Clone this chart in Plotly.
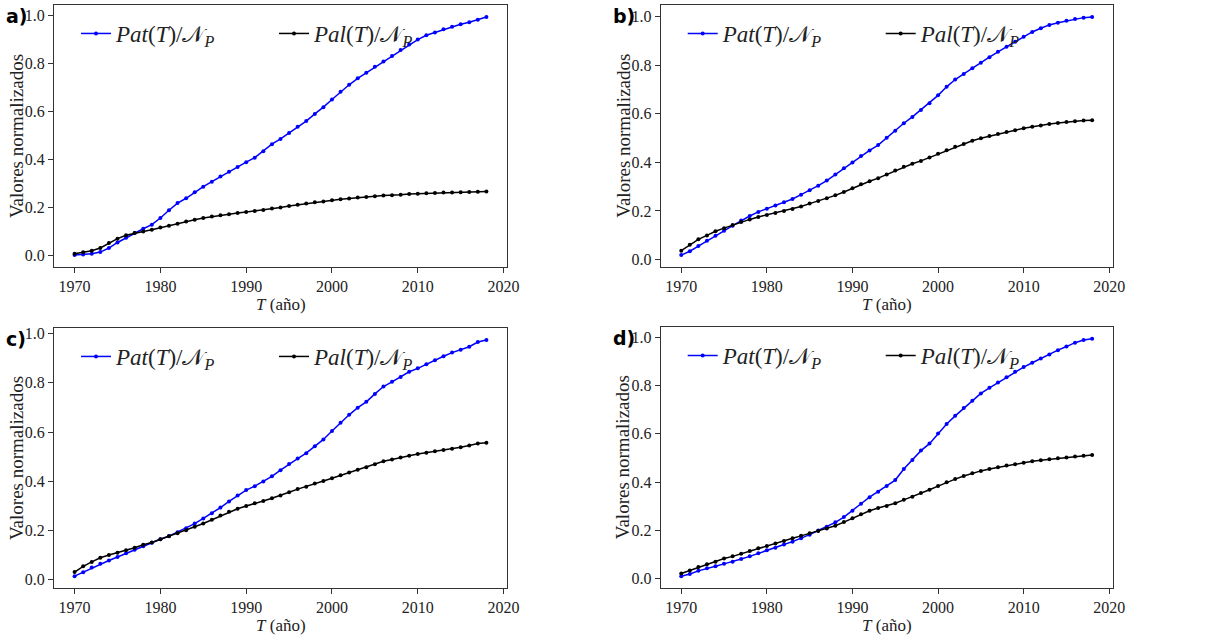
import plotly.graph_objects as go

years = list(range(1970, 2019))

pat_a = [0.003,0.005,0.008,0.015,0.032,0.055,0.075,0.094,0.112,0.129,0.157,0.189,0.219,0.239,0.264,0.287,0.308,0.329,0.349,0.369,
         0.389,0.408,0.435,0.464,0.486,0.511,0.536,0.560,0.590,0.618,0.650,0.682,0.711,0.738,0.761,0.786,0.808,0.831,0.856,0.879,
         0.899,0.917,0.929,0.942,0.953,0.963,0.971,0.982,0.993]
pal_a = [0.008,0.014,0.021,0.032,0.053,0.071,0.085,0.094,0.101,0.108,0.117,0.125,0.133,0.142,0.150,0.157,0.163,0.168,0.172,0.178,
         0.182,0.186,0.190,0.196,0.201,0.207,0.212,0.217,0.222,0.226,0.231,0.235,0.238,0.242,0.244,0.247,0.250,0.251,0.254,0.257,
         0.258,0.260,0.261,0.263,0.263,0.264,0.265,0.266,0.267]
pat_b = [0.018,0.034,0.055,0.077,0.098,0.118,0.139,0.160,0.179,0.196,0.209,0.222,0.236,0.249,0.267,0.285,0.304,0.325,0.350,0.376,
         0.399,0.426,0.449,0.471,0.501,0.530,0.561,0.587,0.616,0.643,0.676,0.711,0.741,0.764,0.788,0.810,0.833,0.855,0.876,0.897,
         0.917,0.937,0.952,0.966,0.975,0.983,0.990,0.996,0.999]
pal_b = [0.036,0.061,0.083,0.099,0.116,0.129,0.142,0.154,0.165,0.175,0.183,0.191,0.200,0.208,0.218,0.230,0.241,0.252,0.264,0.278,
         0.293,0.310,0.322,0.335,0.350,0.366,0.382,0.394,0.406,0.420,0.435,0.450,0.464,0.476,0.489,0.499,0.508,0.517,0.525,0.532,
         0.540,0.547,0.552,0.558,0.562,0.566,0.569,0.572,0.573]
pat_c = [0.014,0.030,0.049,0.065,0.078,0.092,0.107,0.122,0.136,0.150,0.164,0.177,0.193,0.209,0.228,0.249,0.270,0.293,0.318,0.342,
         0.364,0.380,0.399,0.420,0.445,0.470,0.492,0.514,0.542,0.570,0.604,0.638,0.670,0.699,0.723,0.755,0.785,0.804,0.824,0.845,
         0.859,0.876,0.892,0.908,0.923,0.935,0.947,0.966,0.974]
pal_c = [0.031,0.054,0.072,0.089,0.100,0.109,0.119,0.130,0.142,0.151,0.164,0.176,0.189,0.201,0.215,0.228,0.243,0.261,0.276,0.288,
         0.299,0.311,0.320,0.331,0.342,0.355,0.368,0.378,0.391,0.401,0.412,0.424,0.436,0.447,0.457,0.469,0.481,0.488,0.497,0.504,
         0.511,0.516,0.522,0.527,0.532,0.538,0.545,0.553,0.557]
pat_d = [0.010,0.019,0.032,0.043,0.051,0.061,0.070,0.081,0.092,0.105,0.117,0.128,0.141,0.153,0.167,0.182,0.199,0.215,0.233,0.255,
         0.281,0.310,0.337,0.360,0.383,0.408,0.454,0.491,0.530,0.559,0.601,0.640,0.674,0.706,0.737,0.767,0.790,0.812,0.834,0.857,
         0.876,0.894,0.912,0.928,0.946,0.961,0.977,0.988,0.993]
pal_d = [0.021,0.033,0.048,0.059,0.070,0.083,0.092,0.103,0.114,0.126,0.135,0.145,0.156,0.167,0.177,0.188,0.197,0.207,0.219,0.234,
         0.250,0.266,0.281,0.292,0.301,0.312,0.326,0.339,0.354,0.368,0.383,0.399,0.412,0.425,0.436,0.446,0.454,0.461,0.468,0.474,
         0.480,0.486,0.490,0.494,0.498,0.502,0.506,0.509,0.512]

panel_labels = ["a)", "b)", "c)", "d)"]
pat_name = "<i>Pat</i>(<i>T</i>)/𝒩<sub><i>P</i></sub>"
pal_name = "<i>Pal</i>(<i>T</i>)/𝒩<sub><i>P</i></sub>"
x_title = "<i>T</i> (año)"
y_title = "Valores normalizados"
x_ticks = [1970, 1980, 1990, 2000, 2010, 2020]
y_ticks = [0.0, 0.2, 0.4, 0.6, 0.8, 1.0]

W, H = 1221, 638
serif = "Liberation Serif"

panels = [
    (pat_a, pal_a, (54, 507), (5, 267), (-0.047, 1.043)),
    (pat_b, pal_b, (660.7, 1112.7), (5, 267), (-0.031, 1.048)),
    (pat_c, pal_c, (54, 507), (328, 588), (-0.034, 1.023)),
    (pat_d, pal_d, (660.7, 1112.7), (327, 588), (-0.039, 1.042)),
]

fig = go.Figure()
layout = dict(
    width=W, height=H, margin=dict(l=0, r=0, t=0, b=0, autoexpand=False),
    paper_bgcolor="white", plot_bgcolor="white",
    font=dict(family=serif, size=15, color="#222"),
    showlegend=True, annotations=[],
)

for i, (pat, pal, xs, ys, yr) in enumerate(panels):
    n = "" if i == 0 else str(i + 1)
    xa, ya = "x" + n, "y" + n
    lg = "legend" + n
    fig.add_trace(go.Scatter(x=years, y=pat, mode="lines+markers", name=pat_name,
                             line=dict(color="#0000ff", width=1.5), marker=dict(size=4, color="#0000ff"),
                             xaxis=xa, yaxis=ya, legend=lg))
    fig.add_trace(go.Scatter(x=years, y=pal, mode="lines+markers", name=pal_name,
                             line=dict(color="black", width=1.5), marker=dict(size=4, color="black"),
                             xaxis=xa, yaxis=ya, legend=lg))
    dx = [xs[0] / W, xs[1] / W]
    dy = [1 - ys[1] / H, 1 - ys[0] / H]
    axcommon = dict(showgrid=False, zeroline=False, showline=True, mirror=True, automargin=False,
                    linecolor="#333", linewidth=1, ticks="outside", ticklen=5,
                    tickwidth=1, tickcolor="#333", tickfont=dict(family=serif, size=16, color="#222"))
    layout["xaxis" + n] = dict(domain=dx, range=[1967.6, 2020.4], anchor=ya, tickvals=x_ticks, **axcommon)
    layout["yaxis" + n] = dict(domain=dy, range=list(yr), anchor=xa, tickvals=y_ticks, tickformat=".1f", **axcommon)
    layout[lg] = dict(orientation="h", x=(xs[0] + 22) / W, y=1 - (ys[0] + 7) / H, xanchor="left", yanchor="top",
                      bgcolor="rgba(0,0,0,0)", font=dict(family=serif, size=23, color="#222"),
                      entrywidth=153, entrywidthmode="pixels")
    # panel label
    layout["annotations"].append(dict(text="<b>" + panel_labels[i] + "</b>", xref="paper", yref="paper",
                                      x=(xs[0] - 50) / W, y=1 - (ys[0] + 11) / H, xanchor="left", yanchor="middle",
                                      showarrow=False, font=dict(family="DejaVu Sans", size=19, color="black")))
    # axis titles
    layout["annotations"].append(dict(text=x_title, xref=xa + " domain", yref="paper",
                                      x=0.5, y=1 - (ys[1] + 37) / H, xanchor="center", yanchor="middle",
                                      showarrow=False, font=dict(family=serif, size=17, color="#222")))
    layout["annotations"].append(dict(text=y_title, xref="paper", yref=ya + " domain",
                                      x=(xs[0] - 38) / W, y=0.5, xanchor="center", yanchor="middle", textangle=-90,
                                      showarrow=False, font=dict(family=serif, size=19, color="#222")))

fig.update_layout(**layout)
fig.write_html("out.html", config={"displayModeBar": False},
               post_script="document.body.style.margin='0';document.body.style.overflow='hidden';")
